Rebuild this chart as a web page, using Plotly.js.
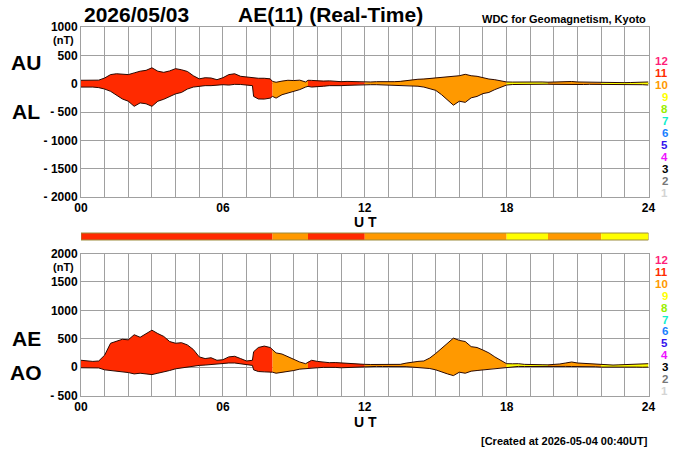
<!DOCTYPE html>
<html>
<head>
<meta charset="utf-8">
<script src="https://cdn.plot.ly/plotly-3.0.1.min.js"></script>
<style>html,body{margin:0;padding:0;background:#fff;}#chart{width:700px;height:450px;}</style>
</head>
<body>
<div id="chart"></div>
<script>
// ---- data ----
const T = [0,0.25,0.5,0.75,1,1.25,1.5,1.75,2,2.25,2.5,2.75,3,3.25,3.5,3.75,4,4.25,4.5,4.75,5,5.25,5.5,5.75,6,6.25,6.5,6.75,7,7.25,7.3,7.5,7.75,8,8.1,8.25,8.5,8.75,9,9.25,9.5,9.6,9.75,10,10.25,10.5,10.75,11,11.25,11.5,11.75,12,12.25,12.5,12.75,13,13.25,13.5,13.75,14,14.25,14.5,14.75,15,15.25,15.5,15.75,16,16.25,16.5,16.75,17,17.25,17.5,17.75,18,18.25,18.5,18.75,19,19.25,19.5,19.75,20,20.25,20.5,20.75,21,21.25,21.5,21.75,22,22.25,22.5,22.75,23,23.25,23.5,23.75,24];
const AU = [60,58,55,62,100,160,175,170,160,190,220,235,280,220,200,225,265,245,215,140,85,105,100,70,105,160,175,130,118,105,100,95,95,85,40,25,45,60,55,62,30,60,58,48,45,50,42,35,40,35,30,25,30,35,32,30,35,40,55,70,78,82,92,100,105,118,130,140,165,140,130,100,82,70,47,30,28,30,25,24,28,30,26,30,34,36,38,30,28,24,20,18,15,12,16,18,20,24,28,30];
const AL = [-60,-58,-60,-70,-95,-135,-195,-270,-310,-400,-340,-355,-400,-310,-275,-225,-180,-155,-95,-60,-47,-35,-35,-25,-18,-25,-12,-14,-18,-35,-225,-270,-272,-255,-225,-255,-195,-165,-135,-105,-60,-47,-60,-58,-45,-35,-40,-35,-30,-25,-18,-14,-18,-18,-22,-24,-22,-25,-30,-35,-45,-60,-85,-118,-195,-280,-380,-310,-330,-250,-225,-175,-155,-105,-60,-24,-15,-12,-10,-12,-8,-6,-10,-12,-15,-18,-20,-18,-15,-12,-12,-12,-10,-12,-8,-6,-10,-12,-18,-24];
const AE = [120,110,100,108,210,420,450,490,480,570,525,590,650,590,540,450,420,430,390,310,180,150,165,120,130,180,190,150,108,120,270,345,370,345,300,250,230,180,130,90,60,90,120,100,88,78,80,72,68,60,52,48,46,48,44,42,45,48,70,90,100,108,160,240,330,420,510,470,450,360,345,300,250,180,120,60,58,60,48,42,40,42,40,42,55,72,90,72,65,60,52,48,40,36,40,42,45,48,52,60];
const AO = [-12,-10,-12,-15,-48,-60,-60,-72,-96,-120,-108,-120,-132,-108,-90,-60,-30,-12,0,24,30,36,48,48,60,72,72,60,48,30,-48,-78,-84,-90,-90,-108,-96,-84,-60,-36,-24,-24,-12,-12,-5,0,-5,-12,-6,0,4,0,8,12,10,12,10,12,8,0,-6,-12,-25,-48,-90,-120,-150,-90,-108,-72,-60,-48,-36,-24,-12,0,6,12,10,12,10,12,8,12,10,12,10,12,10,12,6,0,2,0,4,0,2,0,-2,0];

// station-count segments (colour bar)
const segStart = [0, 8.1, 9.6, 12, 18, 19.75, 22];
const segEnd   = [8.1, 9.6, 12, 18, 19.75, 22, 24];
const segStations = [11, 10, 11, 10, 9, 10, 9];

// station-count colour legend
const levelNums = [12,11,10,9,8,7,6,5,4,3,2,1];
const levelColors = ['#ff1f7a','#ff2a00','#ff9900','#ffff00','#99ee00','#11eecc','#1a80ff','#3311ee','#ee11ff','#000000','#777777','#d4d4d4'];

const xTickVals = [0,6,12,18,24];
const xTickText = ['00','06','12','18','24'];
const yTopVals = [1000,500,0,-500,-1000,-1500,-2000];
const yTopText = ['1000','500','0','- 500','- 1000','- 1500','- 2000'];
const yBotVals = [2000,1500,1000,500,0,-500];
const yBotText = ['2000','1500','1000','500','0','- 500'];

// ---- build ----
const FONT = 'Liberation Sans, Arial, Helvetica, sans-serif';
function colorFor(n){ return levelColors[levelNums.indexOf(n)]; }

const traces = [];
function bandTraces(upper, lower, xa, ya){
  for (let s = 0; s < segStart.length; s++){
    const xs = [], hi = [], lo = [];
    for (let i = 0; i < T.length; i++){
      if (T[i] >= segStart[s] && T[i] <= segEnd[s]){ xs.push(T[i]); hi.push(upper[i]); lo.push(lower[i]); }
    }
    traces.push({x: xs, y: lo, xaxis: xa, yaxis: ya, mode: 'lines', line: {width: 0, color: colorFor(segStations[s])}, hoverinfo: 'skip', showlegend: false});
    traces.push({x: xs, y: hi, xaxis: xa, yaxis: ya, mode: 'lines', fill: 'tonexty', fillcolor: colorFor(segStations[s]), line: {width: 0, color: colorFor(segStations[s])}, hoverinfo: 'skip', showlegend: false});
  }
  [upper, lower].forEach(arr => traces.push({x: T, y: arr, xaxis: xa, yaxis: ya, mode: 'lines', line: {width: 1, color: '#2a0800'}, hoverinfo: 'skip', showlegend: false}));
}
bandTraces(AU, AL, 'x', 'y');
bandTraces(AE, AO, 'x2', 'y2');

const W = 700, H = 450;
const px = v => v / W, py = v => 1 - v / H;
const GRID = '#a0a0a0';
const tickFont = {family: FONT, size: 12, color: '#000', weight: 'bold'};

function xAxis(anchor){
  return {domain: [px(81), px(648.5)], range: [0, 24], anchor: anchor,
    tickmode: 'array', tickvals: xTickVals, ticktext: xTickText, tickfont: tickFont,
    showgrid: true, gridcolor: GRID, gridwidth: 1,
    minor: {dtick: 1, showgrid: true, gridcolor: GRID, gridwidth: 1, ticks: ''},
    showline: true, linecolor: GRID, linewidth: 1, mirror: true, zeroline: false, ticks: '', fixedrange: true};
}
function yAxis(anchor, dom, rng, vals, text){
  return {domain: dom, range: rng, anchor: anchor, tickmode: 'array', tickvals: vals, ticktext: text, tickfont: tickFont,
    showgrid: true, gridcolor: GRID, gridwidth: 1, showline: true, linecolor: GRID, linewidth: 1, mirror: true,
    zeroline: false, ticks: '', fixedrange: true};
}

const shapes = [];
for (let s = 0; s < segStart.length; s++){
  shapes.push({type: 'rect', xref: 'x', yref: 'paper', x0: segStart[s], x1: segEnd[s], y0: py(240), y1: py(233),
    fillcolor: colorFor(segStations[s]), line: {width: 0}, layer: 'above'});
}
shapes.push({type: 'rect', xref: 'x', yref: 'paper', x0: 0, x1: 24, y0: py(240), y1: py(233), fillcolor: 'rgba(0,0,0,0)', line: {width: 1, color: '#9c8c3c'}, layer: 'above'});

const ann = [];
function txt(text, x, y, size, opts){
  ann.push(Object.assign({text: text, xref: 'paper', yref: 'paper', x: px(x), y: py(y), showarrow: false,
    xanchor: 'left', yanchor: 'middle', font: {family: FONT, size: size, color: '#000', weight: 'bold'}}, opts || {}));
}
txt('2026/05/03', 82, 15, 21);
txt('AE(11) (Real-Time)', 236, 15, 21);
txt('WDC for Geomagnetism, Kyoto', 648, 19, 11, {xanchor: 'right'});
txt('[Created at 2026-05-04 00:40UT]', 650, 441, 11, {xanchor: 'right'});
txt('AU', 26, 62.5, 21, {xanchor: 'center'});
txt('AL', 26, 111.5, 21, {xanchor: 'center'});
txt('AE', 26, 338.5, 21, {xanchor: 'center'});
txt('AO', 26, 372, 21, {xanchor: 'center'});
txt('(nT)', 76, 40, 11, {xanchor: 'right'});
txt('(nT)', 76, 267, 11, {xanchor: 'right'});
txt('U T', 365, 222, 14, {xanchor: 'center'});
txt('U T', 365, 422, 14, {xanchor: 'center'});
levelNums.forEach((n, i) => {
  txt(String(n), 670, 60.7 + 12.05 * i, 11.5, {xanchor: 'right', font: {family: FONT, size: 11.5, color: levelColors[i], weight: 'bold'}});
  txt(String(n), 670, 260 + 11.9 * i, 11.5, {xanchor: 'right', font: {family: FONT, size: 11.5, color: levelColors[i], weight: 'bold'}});
});

const layout = {
  width: W, height: H, margin: {l: 0, r: 0, t: 0, b: 0, pad: 0},
  paper_bgcolor: '#fff', plot_bgcolor: '#fff', showlegend: false,
  font: {family: FONT, color: '#000'},
  xaxis: xAxis('y'),
  yaxis: yAxis('x', [py(197), py(27)], [-2000, 1000], yTopVals, yTopText),
  xaxis2: xAxis('y2'),
  yaxis2: yAxis('x2', [py(395.5), py(253.5)], [-500, 2000], yBotVals, yBotText),
  shapes: shapes, annotations: ann
};
Plotly.newPlot('chart', traces, layout, {staticPlot: true, displayModeBar: false});
</script>
</body>
</html>
